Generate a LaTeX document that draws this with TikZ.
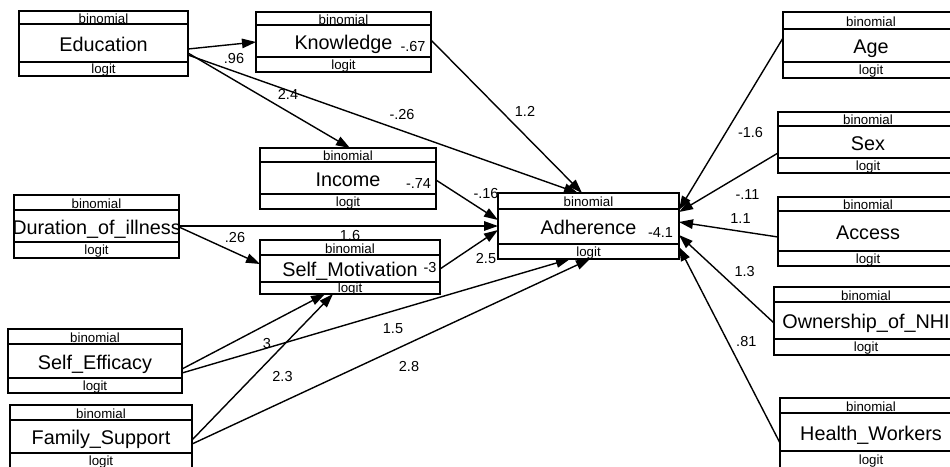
\documentclass[tikz,border=0pt]{standalone}
\usepackage{fontspec}
\setmainfont{Liberation Sans}
\usetikzlibrary{arrows.meta}
\tikzset{
  boxframe/.style={draw=black, line width=1.9pt, fill=white, rectangle, inner sep=0pt, outer sep=0pt},
  bandline/.style={draw=black, line width=1.9pt},
  smalltxt/.style={font=\fontsize{13.3}{14}\selectfont, inner sep=0pt, anchor=base},
  maintxt/.style={font=\fontsize{19.8}{20}\selectfont, inner sep=0pt, anchor=base},
  coef/.style={font=\fontsize{14.5}{15}\selectfont, inner sep=0pt, anchor=center},
  conn/.style={draw=black, line width=1.4pt, -{Triangle[length=14pt,width=9.5pt]}},
}
\newcommand\glmbox[8]{%
  \node[boxframe, minimum width={#3pt-#2pt}, minimum height={#7pt-#4pt}] (#1) at ({(#2+#3)/2},{(#4+#7)/2}) {};
  \draw[bandline] (#2,#5) -- (#3,#5) (#2,#6) -- (#3,#6);
  \node[smalltxt] (#1-fam) at ({(#2+#3)/2},{(#4+#5)/2+5.5}) {binomial};
  \node[maintxt] (#1-lab) at ({(#2+#3)/2},{(#5+#6)/2+8}) {#8};
  \node[smalltxt] (#1-link) at ({(#2+#3)/2},{(#6+#7)/2+4.5}) {logit};
}
\begin{document}
\begin{tikzpicture}[x=1pt,y=-1pt]
\useasboundingbox (0,0) rectangle (950,466);
\clip (0,0) rectangle (950,466);
\fill[white] (0,0) rectangle (950,466);

% coefficient labels (drawn first, boxes may cover them)
\node[coef] (l-eduknow) at (234,59) {.96};
\node[coef] (l-eduinc) at (288,94) {2.4};
\node[coef] (l-eduadh) at (402,114.5) {-.26};
\node[coef] (l-knowadh) at (525,111) {1.2};
\node[coef] (l-incadh) at (486,193.5) {-.16};
\node[coef] (l-duradh) at (350,236) {1.6};
\node[coef] (l-dursm) at (235,237.5) {.26};
\node[coef] (l-smadh) at (486,258.5) {2.5};
\node[coef] (l-sesm) at (267,343.7) {3};
\node[coef] (l-seadh) at (393,329) {1.5};
\node[coef] (l-fssm) at (282.5,376.7) {2.3};
\node[coef] (l-fsadh) at (409,366.7) {2.8};
\node[coef] (l-ageadh) at (750.5,133) {-1.6};
\node[coef] (l-sexadh) at (747.5,194.7) {-.11};
\node[coef] (l-accadh) at (740.5,218.3) {1.1};
\node[coef] (l-ownadh) at (744.7,271.7) {1.3};
\node[coef] (l-hwadh) at (746.3,341.7) {.81};

% boxes
\glmbox{edu}{19}{188}{11}{24}{62}{76}{Education}
\glmbox{know}{256}{431}{12}{25}{57}{72}{Knowledge}
\glmbox{inc}{260}{436}{148}{162}{194}{209}{Income}
\glmbox{dur}{14}{179}{195}{210}{242}{258}{Duration\_of\_illness}
\glmbox{smot}{260}{440}{240}{255}{282}{294}{Self\_Motivation}
\glmbox{seff}{8}{182}{329}{344}{378}{393}{Self\_Efficacy}
\glmbox{fsup}{10}{192}{405}{420}{453}{468}{Family\_Support}
\glmbox{adh}{498}{679}{193}{209}{244}{259}{Adherence}
\glmbox{age}{783}{959}{12}{29}{62}{78}{Age}
\glmbox{sex}{778}{958}{112}{126}{158}{173}{Sex}
\glmbox{acc}{778}{958}{197}{211}{251}{266}{Access}
\glmbox{own}{774}{958}{287}{302}{339}{355}{Ownership\_of\_NHI}
\glmbox{hw}{780}{962}{398}{413}{451}{468}{Health\_Workers}

% intercepts
\node[coef] (i-know) at (413,47) {-.67};
\node[coef] (i-inc) at (418.5,184) {-.74};
\node[coef] (i-smot) at (430,268) {-3};
\node[coef] (i-adh) at (660.5,233) {-4.1};

% connectors
\draw[conn] ([yshift=-38pt]edu.north east) -- ([yshift=-30pt]know.north west);
\draw[conn] ([yshift=-42pt]edu.north east) -- ([xshift=90pt]inc.north west);
\draw[conn] ([yshift=-44pt]edu.north east) -- ([xshift=80pt]adh.north west);
\draw[conn] ([yshift=-28pt]know.north east) -- ([xshift=84pt]adh.north west);
\draw[conn] ([yshift=-32pt]inc.north east) -- ([yshift=-27pt]adh.north west);
\draw[conn] ([yshift=-31pt]dur.north east) -- ([yshift=-33pt]adh.north west);
\draw[conn] ([yshift=-32pt]dur.north east) -- ([yshift=-24pt]smot.north west);
\draw[conn] ([yshift=-29pt]smot.north east) -- ([yshift=-37pt]adh.north west);
\draw[conn] ([yshift=-40pt]seff.north east) -- ([xshift=65pt]smot.south west);
\draw[conn] ([yshift=-44pt]seff.north east) -- ([xshift=72pt]adh.south west);
\draw[conn] ([yshift=-35pt]fsup.north east) -- ([xshift=73pt]smot.south west);
\draw[conn] ([yshift=-39pt]fsup.north east) -- ([xshift=92pt]adh.south west);
\draw[conn] ([yshift=-26pt]age.north west) -- ([yshift=-17pt]adh.north east);
\draw[conn] ([yshift=-41pt]sex.north west) -- ([yshift=-19pt]adh.north east);
\draw[conn] ([yshift=-40pt]acc.north west) -- ([yshift=-29pt]adh.north east);
\draw[conn] ([yshift=-36pt]own.north west) -- ([yshift=-42pt]adh.north east);
\draw[conn] ([yshift=-45pt]hw.north west) -- ([yshift=-54pt]adh.north east);
\end{tikzpicture}
\end{document}
